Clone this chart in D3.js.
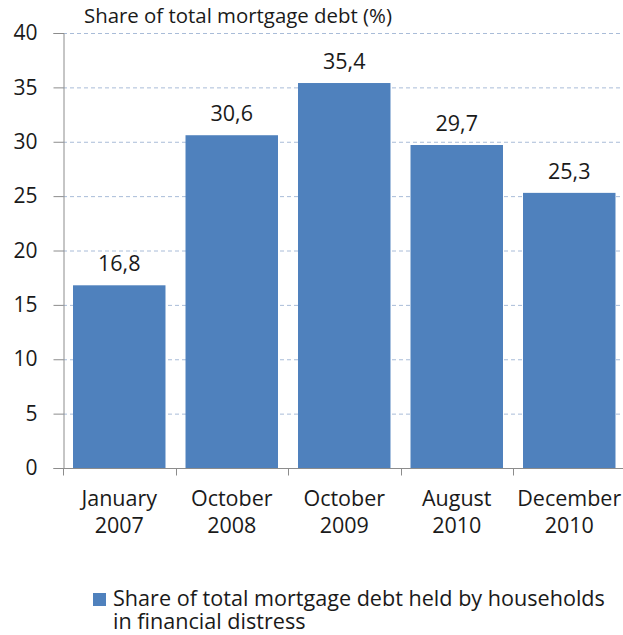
<!DOCTYPE html>
<html>
<head>
<meta charset="utf-8">
<script src="https://cdn.jsdelivr.net/npm/d3@7"></script>
<style>
  html, body { margin: 0; padding: 0; background: #fff; }
  svg { display: block; font-family: "Open Sans", "Noto Sans", sans-serif; }
</style>
</head>
<body>
<svg id="chart" width="623" height="635"></svg>
<script>
// Share of total mortgage debt held by households in financial distress
const categories = [["January", "2007"], ["October", "2008"], ["October", "2009"], ["August", "2010"], ["December", "2010"]];
const values = [16.8, 30.6, 35.4, 29.7, 25.3];
const yTicks = [0, 5, 10, 15, 20, 25, 30, 35, 40];
const titleText = "Share of total mortgage debt (%)";
const legendLines = ["Share of total mortgage debt held by households", "in financial distress"];

const svg = d3.select("#chart");
const margin = { left: 63, top: 33, bottom: 468 };
const plotRight = 625.5;
const barColor = "#4F81BD";
const axisColor = "#8c8c8c";
const textColor = "#1a1a1a";
const fontFamily = "'Open Sans', 'Noto Sans', sans-serif";

const keys = categories.map(c => c.join(" "));
const x = d3.scaleBand().domain(keys).range([margin.left, plotRight]).paddingInner(0.178).paddingOuter(0.089);
const y = d3.scaleLinear().domain([0, 40]).range([margin.bottom, margin.top]);

// horizontal dashed gridlines
svg.append("g").selectAll("line").data(yTicks.filter(t => t > 0)).join("line")
  .attr("x1", margin.left).attr("x2", 623)
  .attr("y1", d => y(d) + 0.5).attr("y2", d => y(d) + 0.5)
  .attr("stroke", "#a9bcd8").attr("stroke-width", 1).attr("stroke-dasharray", "4,3");

// bars
svg.append("g").selectAll("rect").data(values).join("rect")
  .attr("x", (d, i) => x(keys[i]))
  .attr("width", x.bandwidth())
  .attr("y", d => y(d))
  .attr("height", d => y(0) - y(d))
  .attr("fill", barColor);

// value labels
svg.append("g").selectAll("text").data(values).join("text")
  .attr("x", (d, i) => x(keys[i]) + x.bandwidth() / 2)
  .attr("y", d => y(d) - 14)
  .attr("text-anchor", "middle")
  .attr("font-size", 21.5).attr("fill", textColor)
  .text(d => d.toFixed(1).replace(".", ","));

// y axis
const yAxis = svg.append("g").attr("transform", `translate(${margin.left + 0.5},0)`)
  .call(d3.axisLeft(y).tickValues(yTicks).tickSize(10).tickPadding(16));
yAxis.select(".domain").attr("stroke", axisColor);
yAxis.selectAll(".tick line").attr("stroke", axisColor);
yAxis.selectAll(".tick text").attr("font-size", 21).attr("fill", textColor)
  .attr("font-family", fontFamily);

// x axis with ticks between categories
const xAxisG = svg.append("g").attr("transform", `translate(0,${margin.bottom + 0.5})`);
xAxisG.append("line").attr("x1", margin.left).attr("x2", 623).attr("stroke", axisColor);
const step = x.step();
const boundaries = d3.range(keys.length).map(i => x(keys[i]) - x.paddingInner() * step / 2);
xAxisG.selectAll(".sep").data(boundaries).join("line")
  .attr("class", "sep")
  .attr("x1", d => Math.round(d) + 0.5).attr("x2", d => Math.round(d) + 0.5)
  .attr("y1", 0).attr("y2", 7).attr("stroke", axisColor);

const catLabels = xAxisG.selectAll(".cat").data(categories).join("text")
  .attr("class", "cat")
  .attr("text-anchor", "middle")
  .attr("font-size", 21.5).attr("fill", textColor);
catLabels.each(function(d, i) {
  const cx = x(keys[i]) + x.bandwidth() / 2;
  d3.select(this).selectAll("tspan").data(d).join("tspan")
    .attr("x", cx)
    .attr("y", (t, j) => 37 + j * 27)
    .text(t => t);
});

// title
svg.append("text").attr("x", 84).attr("y", 23)
  .attr("font-size", 20.4).attr("fill", textColor)
  .text(titleText);

// legend
svg.append("rect").attr("x", 93).attr("y", 593).attr("width", 13).attr("height", 13).attr("fill", barColor);
svg.append("g").selectAll("text").data(legendLines).join("text")
  .attr("x", 113).attr("y", (d, i) => 606 + i * 22.5)
  .attr("font-size", 21.6).attr("fill", textColor)
  .text(d => d);
</script>
</body>
</html>
